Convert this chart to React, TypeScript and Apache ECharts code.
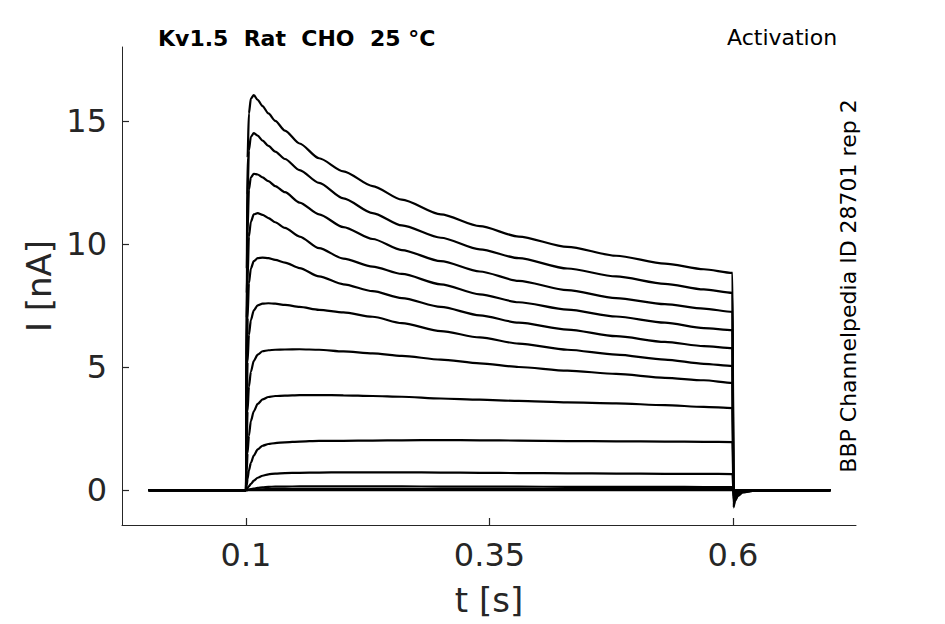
import React, { useEffect, useRef } from "react";
import * as echarts from "echarts";

// time points [s]
const times = [
  0, 0.1, 0.1008, 0.1016, 0.103, 0.105, 0.108, 0.112, 0.117, 0.123, 0.13,
  0.14, 0.155, 0.175, 0.2, 0.23, 0.26, 0.3, 0.34, 0.38, 0.43, 0.48, 0.53, 0.57, 0.5995,
  0.6005, 0.602, 0.605, 0.61, 0.62, 0.7,
];

// current traces [nA]
const traceA = [0, 0, 9, 13.5, 15.3, 15.9, 16.05, 15.85, 15.6, 15.3, 15.0,
  14.6, 14.08, 13.48, 12.95, 12.35, 11.8, 11.2, 10.72, 10.3, 9.88, 9.52, 9.2, 8.97, 8.82,
  -0.7, -0.45, -0.24, -0.1, -0.03, 0];
const traceB = [0, 0, 8, 12, 13.8, 14.35, 14.5, 14.4, 14.2, 13.98, 13.75,
  13.45, 13.0, 12.48, 11.85, 11.25, 10.75, 10.25, 9.78, 9.42, 9.0, 8.68, 8.38, 8.15, 8.01,
  -0.64, -0.41, -0.22, -0.09, -0.03, 0];
const traceC = [0, 0, 7, 10.5, 12.2, 12.7, 12.85, 12.82, 12.7, 12.55, 12.35,
  12.1, 11.68, 11.2, 10.68, 10.2, 9.75, 9.3, 8.88, 8.5, 8.12, 7.8, 7.55, 7.37, 7.24,
  -0.58, -0.37, -0.2, -0.08, -0.02, 0];
const traceD = [0, 0, 5.5, 8.5, 10.3, 10.9, 11.2, 11.25, 11.18, 11.05, 10.88,
  10.65, 10.3, 9.83, 9.4, 9.08, 8.78, 8.36, 7.95, 7.63, 7.33, 7.05, 6.8, 6.58, 6.5,
  -0.52, -0.33, -0.18, -0.07, -0.02, 0];
const traceE = [0, 0, 4.5, 7, 8.4, 9.0, 9.3, 9.42, 9.44, 9.42, 9.35,
  9.24, 9.02, 8.68, 8.36, 8.08, 7.8, 7.44, 7.1, 6.8, 6.52, 6.25, 6.02, 5.85, 5.77,
  -0.46, -0.29, -0.16, -0.06, -0.02, 0];
const traceF = [0, 0, 3.2, 5.2, 6.3, 6.9, 7.3, 7.5, 7.57, 7.59, 7.57,
  7.52, 7.44, 7.32, 7.22, 7.04, 6.78, 6.46, 6.2, 5.95, 5.7, 5.5, 5.3, 5.13, 5.04,
  -0.4, -0.25, -0.14, -0.05, -0.02, 0];
const traceG = [0, 0, 2.0, 3.2, 4.2, 4.8, 5.25, 5.5, 5.64, 5.68, 5.7,
  5.71, 5.72, 5.7, 5.63, 5.55, 5.45, 5.3, 5.15, 5.0, 4.85, 4.72, 4.56, 4.46, 4.35,
  -0.34, -0.21, -0.12, -0.05, -0.01, 0];
const traceH = [0, 0, 0.8, 1.5, 2.2, 2.8, 3.2, 3.5, 3.68, 3.78, 3.82,
  3.84, 3.86, 3.86, 3.85, 3.82, 3.79, 3.72, 3.67, 3.62, 3.56, 3.52, 3.45, 3.38, 3.33,
  -0.26, -0.16, -0.09, -0.04, -0.01, 0];
const traceI = [0, 0, 0.2, 0.45, 0.8, 1.1, 1.4, 1.65, 1.8, 1.87, 1.91,
  1.94, 1.97, 2.0, 2.0, 2.01, 2.02, 2.03, 2.02, 2.01, 1.99, 1.98, 1.97, 1.96, 1.95,
  -0.16, -0.1, -0.05, -0.02, 0, 0];
const traceJ = [0, 0, 0.03, 0.08, 0.15, 0.25, 0.38, 0.5, 0.58, 0.64, 0.67,
  0.69, 0.7, 0.71, 0.72, 0.72, 0.72, 0.71, 0.7, 0.69, 0.68, 0.67, 0.66, 0.66, 0.65,
  -0.07, -0.04, -0.02, -0.01, 0, 0];
const traceK = [0, 0, 0, 0.01, 0.02, 0.04, 0.06, 0.09, 0.11, 0.13, 0.14,
  0.14, 0.15, 0.15, 0.15, 0.15, 0.15, 0.14, 0.14, 0.14, 0.13, 0.13, 0.13, 0.12, 0.12,
  -0.02, -0.01, 0, 0, 0, 0];
const traceL = [0, 0, 0, 0, 0.01, 0.01, 0.02, 0.03, 0.03, 0.04, 0.04,
  0.04, 0.04, 0.04, 0.04, 0.04, 0.04, 0.04, 0.04, 0.04, 0.04, 0.04, 0.04, 0.04, 0.04,
  0, 0, 0, 0, 0, 0];
const traceM = [0, 0, 0, 0, 0, 0, 0, 0, 0, 0, 0,
  0, 0, 0, 0, 0, 0, 0, 0, 0, 0, 0, 0, 0, 0,
  0, 0, 0, 0, 0, 0];

const traces = [traceA, traceB, traceC, traceD, traceE, traceF, traceG, traceH, traceI, traceJ, traceK, traceL, traceM];

const xTicks = [0.1, 0.35, 0.6];
const yTicks = [0, 5, 10, 15];

const X_MIN = -0.0273;
const X_MAX = 0.7263;
const Y_MIN = -1.42;
const Y_MAX = 18.0;

const titleText = "Kv1.5  Rat  CHO  25 °C";
const protocolText = "Activation";
const sideText = "BBP Channelpedia ID 28701 rep 2";

const FONT = "DejaVu Sans";
const AXIS_COLOR = "#262626";

export default function App() {
  const ref = useRef<HTMLDivElement>(null);
  useEffect(() => {
    if (!ref.current) return;
    const chart = echarts.init(ref.current, undefined, { renderer: "svg" });
    const series = traces.map((tr) => ({
      type: "line",
      data: times.map((t, i) => [t, tr[i]]),
      showSymbol: false,
      smooth: 0.25,
      smoothMonotone: "x",
      lineStyle: { color: "#000", width: 2.2 },
      silent: true,
    }));
    chart.setOption({
      animation: false,
      backgroundColor: "#fff",
      grid: { left: 122, right: 89, top: 47, bottom: 99, outerBoundsMode: "none", containLabel: false },
      xAxis: {
        type: "value",
        min: X_MIN,
        max: X_MAX,
        name: "t [s]",
        nameLocation: "middle",
        nameGap: 58,
        nameMoveOverlap: false,
        nameTextStyle: { fontFamily: FONT, fontSize: 34, color: AXIS_COLOR },
        axisLine: { show: true, onZero: false, lineStyle: { color: AXIS_COLOR, width: 1 } },
        axisTick: { show: true, inside: true, length: 7, customValues: xTicks, lineStyle: { color: AXIS_COLOR, width: 1.2 } },
        axisLabel: {
          customValues: xTicks,
          margin: 14,
          fontFamily: FONT,
          fontSize: 32,
          color: AXIS_COLOR,
          formatter: (v: number) => String(v),
        },
        splitLine: { show: false },
      },
      yAxis: {
        type: "value",
        min: Y_MIN,
        max: Y_MAX,
        name: "I [nA]",
        nameLocation: "middle",
        nameGap: 66,
        nameRotate: 90,
        nameMoveOverlap: false,
        nameTextStyle: { fontFamily: FONT, fontSize: 34, color: AXIS_COLOR },
        axisLine: { show: true, onZero: false, lineStyle: { color: AXIS_COLOR, width: 1 } },
        axisTick: { show: true, inside: true, length: 7, customValues: yTicks, lineStyle: { color: AXIS_COLOR, width: 1.2 } },
        axisLabel: {
          customValues: yTicks,
          margin: 15,
          fontFamily: FONT,
          fontSize: 32,
          color: AXIS_COLOR,
          formatter: (v: number) => String(v),
        },
        splitLine: { show: false },
      },
      graphic: [
        {
          type: "text",
          left: 158,
          top: 27,
          style: { text: titleText, fontFamily: FONT, fontSize: 22, fontWeight: "bold", fill: "#000" },
        },
        {
          type: "text",
          left: 727,
          top: 26,
          style: { text: protocolText, fontFamily: FONT, fontSize: 22, fill: "#000" },
        },
        {
          type: "text",
          x: 848,
          y: 286,
          rotation: Math.PI / 2,
          style: {
            text: sideText,
            fontFamily: FONT,
            fontSize: 22,
            fill: "#000",
            align: "center",
            verticalAlign: "middle",
          },
        },
      ],
      series,
    });
    return () => chart.dispose();
  }, []);
  return (
    <div
      ref={ref}
      style={{ position: "fixed", left: 0, top: 0, width: 945, height: 624 }}
    />
  );
}
